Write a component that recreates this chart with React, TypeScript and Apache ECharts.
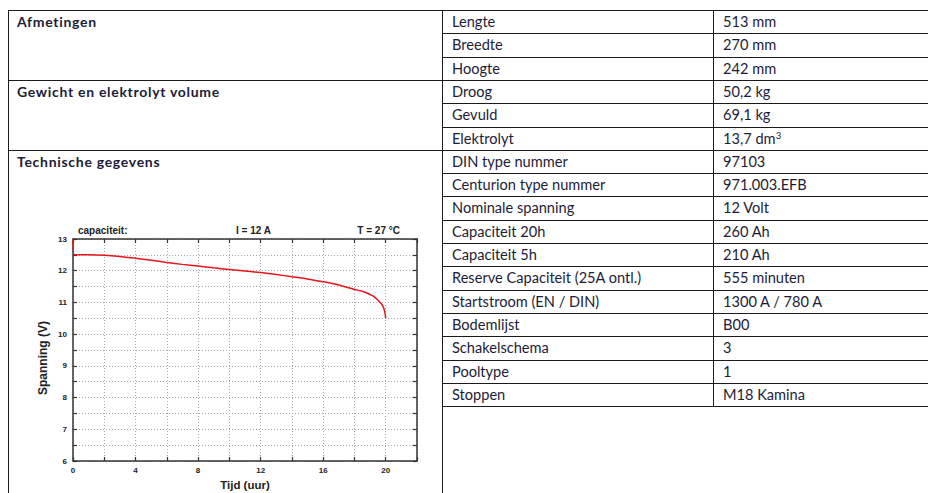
import React, { useEffect, useRef } from "react";
import * as echarts from "echarts";

// ---- chart data ----
const hours = [0, 0.08, 0.5, 1, 2, 3, 4, 5, 6, 7, 8, 9, 10, 11, 12, 13, 14, 15, 16, 17, 18, 18.5, 19, 19.3, 19.5, 19.65, 19.8, 19.9, 19.96, 20];
const volts = [13, 12.5, 12.5, 12.5, 12.49, 12.45, 12.39, 12.33, 12.26, 12.2, 12.15, 12.09, 12.04, 11.99, 11.94, 11.88, 11.81, 11.74, 11.65, 11.55, 11.41, 11.35, 11.25, 11.17, 11.07, 11.0, 10.9, 10.78, 10.65, 10.5];
const chartTitles = ["capaciteit:", "I = 12 A", "T = 27 °C"];
const xAxisName = "Tijd (uur)";
const yAxisName = "Spanning (V)";

// ---- table content ----
const groupLabels = ["Afmetingen", "Gewicht en elektrolyt volume", "Technische gegevens"];
const groupSizes = [3, 3, 11];
const specNames = [
  "Lengte", "Breedte", "Hoogte",
  "Droog", "Gevuld", "Elektrolyt",
  "DIN type nummer", "Centurion type nummer", "Nominale spanning", "Capaciteit 20h", "Capaciteit 5h",
  "Reserve Capaciteit (25A ontl.)", "Startstroom (EN / DIN)", "Bodemlijst", "Schakelschema", "Pooltype", "Stoppen",
];
const specValues = [
  "513 mm", "270 mm", "242 mm",
  "50,2 kg", "69,1 kg", "13,7 dm³",
  "97103", "971.003.EFB", "12 Volt", "260 Ah", "210 Ah",
  "555 minuten", "1300 A / 780 A", "B00", "3", "1", "M18 Kamina",
];

const ROW_TOP = 10;
const ROW_H = 23.3;
const COL0 = 8;
const COL1 = 442;
const COL2 = 713;
const PAGE_W = 928;
const PAGE_H = 493;
const LINE = "#1a1a1a";
const TXT = "#1c1c38";
const TABLE_FONT = "Lato, 'Noto Sans', sans-serif";

const CHART_FONT = "'Liberation Sans', Arial, sans-serif";

function Chart() {
  const ref = useRef<HTMLDivElement>(null);
  useEffect(() => {
    if (!ref.current) return;
    const chart = echarts.init(ref.current, null, { renderer: "svg" });
    const axisLine = { show: true, onZero: false, lineStyle: { color: "#333", width: 1.5 } };
    const axisTick = { show: true, inside: true, length: 4, lineStyle: { color: "#333", width: 1.2 } };
    const labelStyle = { fontFamily: CHART_FONT, fontWeight: "bold" as const, fontSize: 8, color: "#222" };
    const split = { show: true, lineStyle: { type: [1, 2], color: "#a8a8a8", width: 1 } };
    const nameStyle = { fontFamily: CHART_FONT, fontWeight: "bold" as const, fontSize: 11.5, color: "#222" };
    chart.setOption({
      animation: false,
      backgroundColor: "#fff",
      grid: { left: 53, top: 24, width: 344, height: 222, containLabel: false, outerBoundsMode: "none" },
      xAxis: [
        {
          type: "value", min: 0, max: 22, interval: 2, position: "bottom",
          axisLine, axisTick,
          axisLabel: { ...labelStyle, margin: 5, formatter: (v: number) => (v % 4 === 0 && v <= 20 ? String(v) : "") },
          splitLine: split,
          name: xAxisName, nameLocation: "middle", nameGap: 18, nameTextStyle: nameStyle,
        },
        {
          type: "value", min: 0, max: 22, interval: 2, position: "top",
          axisLine, axisTick, axisLabel: { show: false }, splitLine: { show: false },
        },
      ],
      yAxis: [
        {
          type: "value", min: 6, max: 13, interval: 0.5, position: "left",
          axisLine, axisTick,
          axisLabel: { ...labelStyle, margin: 6, formatter: (v: number) => (Number.isInteger(v) ? String(v) : "") },
          splitLine: split,
        },
        {
          type: "value", min: 6, max: 13, interval: 0.5, position: "right",
          axisLine, axisTick, axisLabel: { show: false }, splitLine: { show: false },
        },
      ],
      series: [
        {
          type: "line",
          xAxisIndex: 0,
          yAxisIndex: 0,
          data: hours.map((h, i) => [h, volts[i]]),
          showSymbol: false,
          smooth: 0.2,
          lineStyle: { color: "#e8141b", width: 1.5 },
        },
      ],
      graphic: [
        { type: "text", x: 58, y: 15, style: { text: chartTitles[0], font: `bold 10px ${CHART_FONT}`, fill: "#222", verticalAlign: "middle" } },
        { type: "text", x: 233.5, y: 15, style: { text: chartTitles[1], font: `bold 10px ${CHART_FONT}`, fill: "#222", align: "center", verticalAlign: "middle" } },
        { type: "text", x: 380, y: 15, style: { text: chartTitles[2], font: `bold 10px ${CHART_FONT}`, fill: "#222", align: "right", verticalAlign: "middle" } },
        { type: "text", x: 23, y: 143, rotation: Math.PI / 2, style: { text: yAxisName, font: `bold 12px ${CHART_FONT}`, fill: "#222", align: "center", verticalAlign: "middle" } },
      ],
    });
    return () => chart.dispose();
  }, []);
  return <div ref={ref} style={{ position: "absolute", left: 20, top: 215, width: 408, height: 278 }} />;
}

export default function App() {
  const rowY = (i: number) => ROW_TOP + i * ROW_H;
  const nRows = specNames.length;
  const lines: React.ReactNode[] = [];
  const groupStarts: number[] = [];
  let acc = 0;
  groupSizes.forEach((s) => { groupStarts.push(acc); acc += s; });
  for (let i = 0; i <= nRows; i++) {
    const y = Math.round(rowY(i));
    const leftLine = groupStarts.includes(i);
    lines.push(
      <div key={"h" + i} style={{ position: "absolute", left: leftLine ? COL0 : COL1, top: y, width: PAGE_W - (leftLine ? COL0 : COL1), height: 1, background: LINE }} />
    );
  }
  lines.push(<div key="v0" style={{ position: "absolute", left: COL0, top: ROW_TOP, width: 1, height: PAGE_H - ROW_TOP, background: LINE }} />);
  lines.push(<div key="v1" style={{ position: "absolute", left: COL1, top: ROW_TOP, width: 1, height: PAGE_H - ROW_TOP, background: LINE }} />);
  lines.push(<div key="v2" style={{ position: "absolute", left: COL2, top: ROW_TOP, width: 1, height: Math.round(rowY(nRows)) - ROW_TOP, background: LINE }} />);

  const cellStyle = (left: number, i: number, bold = false): React.CSSProperties => ({
    position: "absolute", left, top: rowY(i) + 1, height: ROW_H - 1, lineHeight: `${ROW_H - 1}px`,
    fontFamily: TABLE_FONT, fontSize: bold ? 14 : 14.6, fontWeight: bold ? 700 : 400,
    letterSpacing: bold ? 0.7 : 0, color: TXT, whiteSpace: "nowrap",
  });

  const renderValue = (v: string) => {
    if (v.endsWith("³")) {
      return (
        <>
          {v.slice(0, -1)}
          <span style={{ fontSize: 9.5, position: "relative", top: -5 }}>3</span>
        </>
      );
    }
    return v;
  };

  return (
    <div style={{ position: "fixed", left: 0, top: 0, width: PAGE_W, height: PAGE_H, overflow: "hidden", background: "#fff" }}>
      {lines}
      {groupLabels.map((g, k) => (
        <div key={"g" + k} style={cellStyle(COL0 + 9, groupStarts[k], true)}>{g}</div>
      ))}
      {specNames.map((n, i) => (
        <div key={"n" + i} style={cellStyle(COL1 + 10, i)}>{n}</div>
      ))}
      {specValues.map((v, i) => (
        <div key={"v" + i} style={cellStyle(COL2 + 10, i)}>{renderValue(v)}</div>
      ))}
      <Chart />
    </div>
  );
}
